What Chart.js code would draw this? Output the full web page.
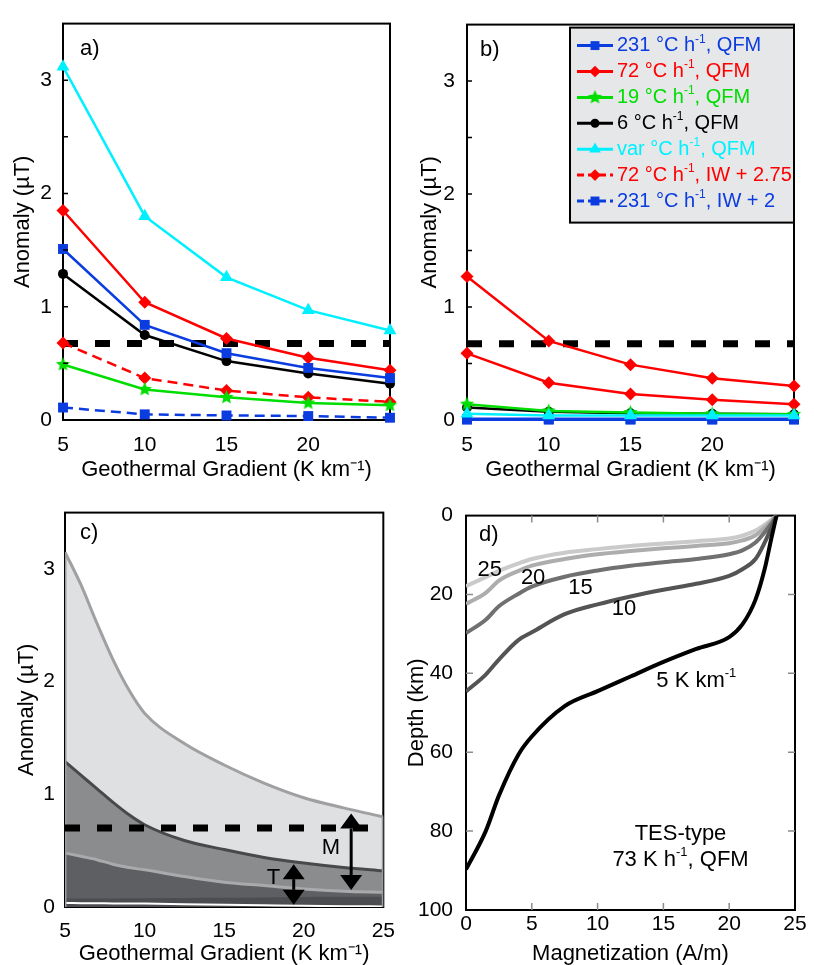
<!DOCTYPE html>
<html>
<head>
<meta charset="utf-8">
<script src="https://cdn.jsdelivr.net/npm/chart.js@4.4.0/dist/chart.umd.min.js"></script>
<style>
  body { margin: 0; background: #fff; width: 814px; height: 965px; position: relative; overflow: hidden; }
  .panel { position: absolute; }
  canvas { display: block; }
</style>
</head>
<body>
<div class="panel" style="left:0;top:0"><canvas id="chartA" width="407" height="490"></canvas></div>
<div class="panel" style="left:407px;top:0"><canvas id="chartB" width="407" height="490"></canvas></div>
<div class="panel" style="left:0;top:490px"><canvas id="chartC" width="407" height="475"></canvas></div>
<div class="panel" style="left:407px;top:490px"><canvas id="chartD" width="407" height="475"></canvas></div>
<script>
// ---- datos ----
const gradient = [5, 10, 15, 20, 25];

const seriesNames = ['231 °C h⁻¹, QFM', '72 °C h⁻¹, QFM', '19 °C h⁻¹, QFM', '6 °C h⁻¹, QFM',
                     'var °C h⁻¹, QFM', '72 °C h⁻¹, IW + 2.75', '231 °C h⁻¹, IW + 2'];
const seriesColors = ['#0a3ce0', '#ff0000', '#00dd00', '#000000', '#00f0ff', '#ff0000', '#0a3ce0'];
const seriesMarkers = ['rect', 'rectRot', 'star', 'circle', 'triangle', 'rectRot', 'rect'];
const seriesDashed = [false, false, false, false, false, true, true];

// panel a)
const a231QFM = [1.51, 0.84, 0.59, 0.46, 0.37];
const a72QFM  = [1.85, 1.04, 0.72, 0.55, 0.44];
const a19QFM  = [0.49, 0.27, 0.20, 0.15, 0.13];
const a6QFM   = [1.29, 0.75, 0.52, 0.41, 0.32];
const aVarQFM = [3.12, 1.80, 1.26, 0.97, 0.79];
const a72IW   = [0.68, 0.37, 0.26, 0.20, 0.16];
const a231IW  = [0.11, 0.05, 0.04, 0.035, 0.02];

// panel b)
const b231QFM = [0.01, 0.01, 0.01, 0.01, 0.01];
const b72QFM  = [1.27, 0.70, 0.49, 0.37, 0.30];
const b19QFM  = [0.14, 0.08, 0.066, 0.055, 0.05];
const b6QFM   = [0.11, 0.072, 0.06, 0.055, 0.05];
const bVarQFM = [0.055, 0.04, 0.04, 0.04, 0.04];
const b72IW   = [0.59, 0.33, 0.23, 0.18, 0.14];
const b231IW  = [0.003, 0.003, 0.003, 0.003, 0.003];

const thresholdAB = 0.675;
const thresholdC = 0.70;

// panel c)
const cX     = [5, 6, 7, 8, 9, 10, 12.5, 15, 17.5, 20, 22.5, 25];
const cUpper = [3.15, 2.86, 2.52, 2.20, 1.93, 1.72, 1.45, 1.26, 1.10, 0.97, 0.88, 0.80];
const cDark  = [1.29, 1.17, 1.05, 0.93, 0.82, 0.73, 0.59, 0.51, 0.44, 0.39, 0.35, 0.32];
const cLower = [0.48, 0.45, 0.42, 0.38, 0.35, 0.33, 0.27, 0.22, 0.19, 0.16, 0.14, 0.13];
const cBase  = [0.075, 0.075, 0.075, 0.076, 0.077, 0.078, 0.08, 0.082, 0.085, 0.088, 0.09, 0.09];
const cWhite = [0.035, 0.034, 0.033, 0.032, 0.031, 0.03, 0.025, 0.02, 0.015, 0.01, 0.007, 0.005];

const arrowNames = ['M', 'T'];
const arrowX = [22.98, 19.37];
const arrowTop = [0.83, 0.38];
const arrowBottom = [0.15, 0.02];
const arrowNameX = [21.7, 18.1];
const arrowNameY = [0.52, 0.26];

// panel d)
const dMag = [0, 1.5, 2.5, 4, 5, 7.5, 10, 12.5, 15, 17.5, 20, 21, 22, 22.7, 23.2, 23.6];
const dDepth5  = [89.7, 80, 71, 60.5, 56, 48.3, 44.5, 40.8, 37.1, 33.8, 30.8, 27.6, 21.3, 13.5, 5.8, 0];
const dDepth10 = [44.6, 40.3, 36.5, 31.5, 29.6, 25, 22.5, 20.5, 18.8, 17.3, 15.3, 13.6, 11, 6.8, 3.1, 0];
const dDepth15 = [29.8, 26.4, 23, 19.8, 18, 15.5, 13.9, 12.7, 11.8, 11, 9.8, 8.8, 6.8, 4.2, 2, 0];
const dDepth20 = [22.4, 19.6, 16.5, 14, 12.7, 11, 9.8, 9, 8.3, 7.7, 7, 6.3, 5, 3, 1.4, 0];
const dDepth25 = [17.9, 15.6, 14, 12.1, 11, 9.4, 8.5, 7.7, 7.1, 6.5, 5.8, 5.1, 3.8, 2.3, 1.1, 0];
const dGradNames = ['5', '10', '15', '20', '25'];
const dColors = ['#000000', '#545454', '#707070', '#adadad', '#cacaca'];

const dLabelText  = ['25', '20', '15', '10', '5 K km⁻¹', 'TES-type', '73 K h⁻¹, QFM'];
const dLabelM     = [1.8, 5.1, 8.7, 12.0, 17.5, 16.3, 16.3];
const dLabelDepth = [13.8, 15.8, 18.3, 23.6, 41.9, 80.7, 87.3];

// ---- estilo general ----
const FAMILY = '"Liberation Sans", Arial, Helvetica, sans-serif';
Chart.defaults.font.family = FAMILY;
Chart.defaults.color = '#000';
Chart.defaults.animation = false;
Chart.defaults.plugins.legend.display = false;
Chart.defaults.plugins.tooltip.enabled = false;

// estrella rellena para la serie de 19 °C/h
function makeStar(color, r) {
  const c = document.createElement('canvas');
  const s = Math.ceil(r * 2) + 2;
  c.width = s; c.height = s;
  const g = c.getContext('2d');
  g.fillStyle = color;
  g.beginPath();
  for (let k = 0; k < 10; k++) {
    const rr = k % 2 ? r * 0.45 : r;
    const ang = -Math.PI / 2 + k * Math.PI / 5;
    g.lineTo(s / 2 + rr * Math.cos(ang), s / 2 + rr * Math.sin(ang));
  }
  g.closePath();
  g.fill();
  return c;
}
const starImg = makeStar('#00dd00', 7.5);

function markerStyle(i) { return seriesMarkers[i] === 'star' ? starImg : seriesMarkers[i]; }
function markerRadius(i) {
  return { rect: 7, rectRot: 6.5, circle: 5, triangle: 7.5, star: 7 }[seriesMarkers[i]];
}

// texto con superíndice "-1"
function drawRichText(ctx, text, x, y, size, align, color) {
  const parts = text.split('⁻¹');
  const big = size + 'px ' + FAMILY;
  const small = Math.round(size * 0.6) + 'px ' + FAMILY;
  ctx.font = big;
  const wb = parts.map(p => ctx.measureText(p).width);
  ctx.font = small;
  const ws = ctx.measureText('-1').width;
  const total = wb.reduce((s, w) => s + w, 0) + ws * (parts.length - 1);
  let cx = align === 'center' ? x - total / 2 : (align === 'right' ? x - total : x);
  ctx.fillStyle = color;
  ctx.textAlign = 'left';
  ctx.textBaseline = 'middle';
  parts.forEach((p, i) => {
    ctx.font = big;
    ctx.fillText(p, cx, y);
    cx += wb[i];
    if (i < parts.length - 1) {
      ctx.font = small;
      ctx.fillText('-1', cx, y - size * 0.32);
      cx += ws;
    }
  });
}

// ---- plugins ----
const framePlugin = {
  id: 'frame',
  beforeDatasetsDraw(chart) {
    const { ctx, chartArea: ca } = chart;
    ctx.save();
    ctx.strokeStyle = '#000';
    ctx.lineWidth = 2;
    ctx.strokeRect(ca.left, ca.top, ca.right - ca.left, ca.bottom - ca.top);
    ctx.restore();
  }
};

const inTicksPlugin = {
  id: 'inTicks',
  afterDatasetsDraw(chart, args, o) {
    if (!o || !o.sides) return;
    const { ctx, chartArea: ca, scales } = chart;
    ctx.save();
    ctx.strokeStyle = o.color;
    ctx.lineWidth = o.width || 1.5;
    ctx.beginPath();
    o.sides.forEach(side => {
      const horiz = side === 'top' || side === 'bottom';
      const sc = horiz ? scales.x : scales.y;
      sc.ticks.forEach(t => {
        if (t.value === sc.min || t.value === sc.max) return;
        const p = sc.getPixelForValue(t.value);
        if (side === 'left') { ctx.moveTo(ca.left, p); ctx.lineTo(ca.left + o.len, p); }
        if (side === 'right') { ctx.moveTo(ca.right, p); ctx.lineTo(ca.right - o.len, p); }
        if (side === 'top') { ctx.moveTo(p, ca.top); ctx.lineTo(p, ca.top + o.len); }
        if (side === 'bottom') { ctx.moveTo(p, ca.bottom); ctx.lineTo(p, ca.bottom - o.len); }
      });
    });
    ctx.stroke();
    ctx.restore();
  }
};

const panelTagPlugin = {
  id: 'panelTag',
  afterDatasetsDraw(chart, args, o) {
    if (!o || !o.text) return;
    const { ctx, chartArea: ca } = chart;
    ctx.save();
    ctx.font = '22px ' + FAMILY;
    ctx.fillStyle = '#000';
    ctx.textAlign = 'left';
    ctx.textBaseline = 'middle';
    ctx.fillText(o.text, ca.left + o.dx, ca.top + o.dy);
    ctx.restore();
  }
};

Chart.register(framePlugin, inTicksPlugin, panelTagPlugin);

// leyenda con caja gris (panel b)
const boxLegend = {
  id: 'boxLegend',
  afterDatasetsDraw(chart) {
    const { ctx, chartArea: ca } = chart;
    const w = 224, h = 195, rowH = 25.9;
    const x0 = ca.right - w, y0 = ca.top + 3;
    ctx.save();
    ctx.fillStyle = '#e6e7e9';
    ctx.fillRect(x0, y0, w, h);
    ctx.lineWidth = 2;
    ctx.strokeStyle = '#000';
    ctx.strokeRect(x0, y0, w, h);
    seriesNames.forEach((name, i) => {
      const cy = y0 + 18 + i * rowH;
      ctx.strokeStyle = seriesColors[i];
      ctx.lineWidth = 3;
      ctx.setLineDash(seriesDashed[i] ? [7, 4] : []);
      ctx.beginPath();
      ctx.moveTo(x0 + 7, cy);
      ctx.lineTo(x0 + 43, cy);
      ctx.stroke();
      ctx.setLineDash([]);
      ctx.fillStyle = seriesColors[i];
      Chart.helpers.drawPoint(ctx, { pointStyle: markerStyle(i), radius: markerRadius(i) * 0.9, rotation: 0, borderWidth: 0 }, x0 + 25, cy);
      drawRichText(ctx, name, x0 + 47, cy, 20, 'left', seriesColors[i]);
    });
    ctx.restore();
  }
};

// flechas M y T (panel c)
const arrowPlugin = {
  id: 'arrows',
  afterDatasetsDraw(chart) {
    const { ctx, scales: { x, y } } = chart;
    ctx.save();
    ctx.strokeStyle = '#000';
    ctx.fillStyle = '#000';
    ctx.lineWidth = 3;
    const hw = 11, hl = 15;
    arrowNames.forEach((name, i) => {
      const px = x.getPixelForValue(arrowX[i]);
      const top = y.getPixelForValue(arrowTop[i]);
      const bot = y.getPixelForValue(arrowBottom[i]);
      ctx.beginPath();
      ctx.moveTo(px, top + hl);
      ctx.lineTo(px, bot - hl);
      ctx.stroke();
      ctx.beginPath();
      ctx.moveTo(px, top); ctx.lineTo(px - hw, top + hl); ctx.lineTo(px + hw, top + hl); ctx.closePath();
      ctx.moveTo(px, bot); ctx.lineTo(px - hw, bot - hl); ctx.lineTo(px + hw, bot - hl); ctx.closePath();
      ctx.fill();
      ctx.font = '22px ' + FAMILY;
      ctx.textAlign = 'center';
      ctx.textBaseline = 'middle';
      ctx.fillText(name, x.getPixelForValue(arrowNameX[i]), y.getPixelForValue(arrowNameY[i]));
    });
    ctx.restore();
  }
};

// etiquetas de las curvas (panel d)
const curveLabels = {
  id: 'curveLabels',
  afterDatasetsDraw(chart) {
    const { ctx, scales: { x, y } } = chart;
    ctx.save();
    dLabelText.forEach((t, i) => {
      drawRichText(ctx, t, x.getPixelForValue(dLabelM[i]), y.getPixelForValue(dLabelDepth[i]), 22, 'center', '#000');
    });
    ctx.restore();
  }
};

// ---- ejes ----
function linAxis(o) {
  return {
    type: 'linear', min: o.min, max: o.max, reverse: !!o.reverse,
    grid: { display: false, drawTicks: false },
    border: { display: false },
    ticks: { stepSize: o.step, padding: o.tickPad, maxRotation: 0, autoSkip: false,
             font: { size: 21 }, color: '#000', callback: o.label },
    title: { display: true, text: o.title, font: { size: 22, lineHeight: 1 }, color: '#000', padding: o.titlePad },
    afterFit: o.fit
  };
}
const gradTitle = 'Geothermal Gradient (K km⁻¹)';
const anomTitle = 'Anomaly (µT)';
const intOnly = v => Number.isInteger(v) ? v : '';

function lineSeries(values, useDash, topIndex) {
  return values.map((vals, i) => ({
    label: seriesNames[i],
    data: gradient.map((g, k) => ({ x: g, y: vals[k] })),
    borderColor: seriesColors[i],
    backgroundColor: seriesColors[i],
    borderWidth: 2.5,
    borderDash: useDash && seriesDashed[i] ? [10, 6] : [],
    pointStyle: markerStyle(i),
    pointRadius: markerRadius(i),
    pointBorderWidth: 0,
    tension: 0,
    clip: false,
    fill: false,
    order: i === topIndex ? -1 : 0
  }));
}
function thresholdLine(level, xs) {
  return {
    data: [{ x: xs[0], y: level }, { x: xs[xs.length - 1], y: level }],
    borderColor: '#000', borderWidth: 7, borderDash: [15, 17],
    pointRadius: 0, fill: false, tension: 0
  };
}

// ---- a) ----
new Chart(document.getElementById('chartA'), {
  type: 'line',
  data: { datasets: lineSeries([a231QFM, a72QFM, a19QFM, a6QFM, aVarQFM, a72IW, a231IW], true, -1)
                     .concat([thresholdLine(thresholdAB, gradient)]) },
  options: {
    responsive: false,
    layout: { padding: { left: 0, top: 14, right: 17, bottom: 0 } },
    scales: {
      x: linAxis({ min: 5, max: 25, step: 5, tickPad: 13, title: gradTitle, titlePad: { top: 0, bottom: 9 },
                   label: v => v === 25 ? '' : v, fit: s => { s.height = 70; } }),
      y: linAxis({ min: 0, max: 3.5, step: 0.5, tickPad: 11, title: anomTitle, titlePad: { top: 12, bottom: 0 },
                   label: intOnly, fit: s => { s.width = 63; } })
    },
    plugins: {
      inTicks: { sides: ['left'], color: '#000', len: 5 },
      panelTag: { text: 'a)', dx: 17, dy: 25 }
    }
  }
});

// ---- b) ----
new Chart(document.getElementById('chartB'), {
  type: 'line',
  data: { datasets: lineSeries([b231QFM, b72QFM, b19QFM, b6QFM, bVarQFM, b72IW, b231IW], false, 4)
                     .concat([thresholdLine(thresholdAB, gradient)]) },
  options: {
    responsive: false,
    layout: { padding: { left: 0, top: 14, right: 20, bottom: 0 } },
    scales: {
      x: linAxis({ min: 5, max: 25, step: 5, tickPad: 13, title: gradTitle, titlePad: { top: 0, bottom: 9 },
                   label: v => v === 25 ? '' : v, fit: s => { s.height = 70; } }),
      y: linAxis({ min: 0, max: 3.5, step: 0.5, tickPad: 12, title: anomTitle, titlePad: { top: 12, bottom: 0 },
                   label: intOnly, fit: s => { s.width = 60; } })
    },
    plugins: {
      inTicks: { sides: ['left'], color: '#000', len: 5 },
      panelTag: { text: 'b)', dx: 13, dy: 25 }
    }
  },
  plugins: [boxLegend]
});

// ---- c) ----
function band(vals, line, fillColor, width) {
  return {
    data: cX.map((g, k) => ({ x: g, y: vals[k] })),
    borderColor: line, borderWidth: width, backgroundColor: fillColor,
    fill: fillColor ? 'origin' : false, pointRadius: 0, cubicInterpolationMode: 'monotone'
  };
}
function edge(xv, top) {
  return { data: [{ x: xv, y: 0 }, { x: xv, y: top }], borderColor: '#9c9c9e', borderWidth: 3, pointRadius: 0, fill: false };
}
new Chart(document.getElementById('chartC'), {
  type: 'line',
  data: {
    datasets: [
      thresholdLine(thresholdC, cX),
      edge(cX[0], cUpper[0]),
      edge(cX[cX.length - 1], cUpper[cUpper.length - 1]),
      band(cWhite, '#ffffff', null, 2),
      band(cBase, '#4c4d50', '#4c4d50', 0),
      band(cLower, '#a9aaac', '#5e5f62', 3),
      band(cDark, '#48494b', '#8b8c8e', 3),
      band(cUpper, '#a0a0a2', '#dfe0e2', 3)
    ]
  },
  options: {
    responsive: false,
    layout: { padding: { left: 0, top: 14, right: 15, bottom: 0 } },
    scales: {
      x: linAxis({ min: 5, max: 25, step: 5, tickPad: 12, title: gradTitle, titlePad: { top: 0, bottom: 0 },
                   fit: s => { s.height = 58; } }),
      y: linAxis({ min: 0, max: 3.5, step: 0.5, tickPad: 10, title: anomTitle, titlePad: { top: 16, bottom: 0 },
                   label: intOnly, fit: s => { s.width = 65; } })
    },
    plugins: {
      panelTag: { text: 'c)', dx: 15, dy: 20 }
    }
  },
  plugins: [arrowPlugin]
});

// ---- d) ----
const dDepths = [dDepth5, dDepth10, dDepth15, dDepth20, dDepth25];
new Chart(document.getElementById('chartD'), {
  type: 'line',
  data: {
    datasets: dDepths.map((dep, i) => ({
      label: dGradNames[i] + ' K km-1',
      data: dMag.map((m, k) => ({ x: m, y: dep[k] })),
      borderColor: dColors[i], borderWidth: 4, pointRadius: 0, fill: false,
      cubicInterpolationMode: 'monotone'
    }))
  },
  options: {
    responsive: false,
    layout: { padding: { left: 0, top: 14, right: 19, bottom: 0 } },
    scales: {
      x: linAxis({ min: 0, max: 25, step: 5, tickPad: 2, title: 'Magnetization (A/m)', titlePad: { top: 0, bottom: 0 },
                   fit: s => { s.height = 55; } }),
      y: linAxis({ min: 0, max: 100, step: 20, reverse: true, tickPad: 13, title: 'Depth (km)', titlePad: { top: -1.5, bottom: 0 },
                   fit: s => { s.width = 59; } })
    },
    plugins: {
      inTicks: { sides: ['left', 'right', 'top', 'bottom'], color: '#8c8c8c', len: 7 },
      panelTag: { text: 'd)', dx: 13, dy: 19 }
    }
  },
  plugins: [curveLabels]
});
</script>
</body>
</html>
